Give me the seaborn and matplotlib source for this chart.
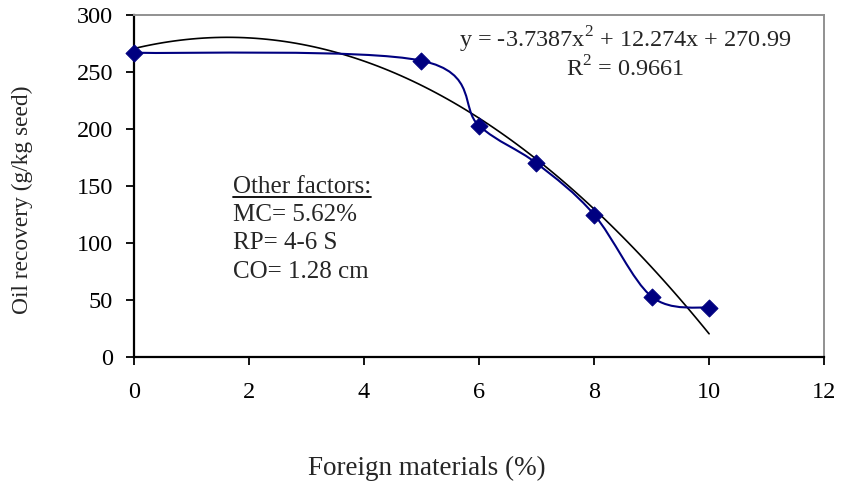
import numpy as np
import pandas as pd
import matplotlib
matplotlib.use('Agg')
import matplotlib.pyplot as plt
from matplotlib.path import Path
from matplotlib.patches import PathPatch
import seaborn as sns

# data
foreign = [0, 5, 6, 7, 8, 9, 10]
oil = [267, 260, 203, 170, 125, 53, 43]
eq_text = 'y = -3.7387x$^2$ + 12.274x + 270.99'
r2_text = 'R$^2$ = 0.9661'
factors = ['MC= 5.62%', 'RP= 4-6 S', 'CO= 1.28 cm']

df = pd.DataFrame({'Foreign': foreign, 'Oil': oil})

sns.set_style('ticks')
plt.rcParams['font.family'] = ['Liberation Serif', 'DejaVu Serif']
plt.rcParams['mathtext.fontset'] = 'custom'
plt.rcParams['mathtext.rm'] = 'Liberation Serif'

fig = plt.figure(figsize=(8.41, 4.87), dpi=100)
ax = fig.add_axes([0.159, 0.267, 0.821, 0.702])

navy = '#000080'

# polynomial trendline (order 2)
sns.regplot(x='Foreign', y='Oil', data=df, order=2, ci=None, scatter=False,
            color='black', line_kws={'linewidth': 1.2}, ax=ax)

# excel-like smoothed line through the points (bezier segments)
pts = np.column_stack([foreign, oil]).astype(float)
verts = [pts[0]]
codes = [Path.MOVETO]
n = len(pts)
for i in range(n - 1):
    p0 = pts[max(i - 1, 0)]
    p1 = pts[i]
    p2 = pts[i + 1]
    p3 = pts[min(i + 2, n - 1)]
    verts += [p1 + (p2 - p0) / 6, p2 - (p3 - p1) / 6, p2]
    codes += [Path.CURVE4] * 3
ax.add_patch(PathPatch(Path(verts, codes), fill=False, edgecolor=navy, linewidth=1.5, zorder=3))

sns.scatterplot(x='Foreign', y='Oil', data=df, marker='D', s=75, color=navy,
                edgecolor=navy, zorder=4, clip_on=False, ax=ax)

ax.set_xlim(0, 12)
ax.set_ylim(0, 300)
ax.set_xticks(range(0, 13, 2))
ax.set_yticks(range(0, 301, 50))
ax.set_xlabel('')
ax.set_ylabel('')
ax.tick_params(direction='out', length=6, width=1.3, labelsize=17.5, colors='black')
ax.tick_params(axis='y', pad=9)
ax.tick_params(axis='x', pad=12)

for s in ['left', 'bottom']:
    ax.spines[s].set_color('black')
    ax.spines[s].set_linewidth(1.6)
for s in ['top', 'right']:
    ax.spines[s].set_color('#909090')
    ax.spines[s].set_linewidth(1.4)

ax.text(8.54, 278, eq_text, ha='center', va='center', fontsize=17.5)
ax.text(8.54, 252.5, r2_text, ha='center', va='center', fontsize=17.5)

t = ax.text(1.72, 149, 'Other factors:', ha='left', va='center', fontsize=18)
for k, line in enumerate(factors):
    ax.text(1.72, 124.6 - 24.8 * k, line, ha='left', va='center', fontsize=18)

# underline for "Other factors:"
fig.canvas.draw()
bb = t.get_window_extent().transformed(fig.transFigure.inverted())
fig.add_artist(plt.Line2D([bb.x0, bb.x1], [bb.y0 + 0.003, bb.y0 + 0.003], color='black',
                          linewidth=1.3, transform=fig.transFigure))

fig.text(22 / 841, 1 - 200 / 487, 'Oil recovery (g/kg seed)', rotation=90,
         ha='center', va='center', fontsize=16.8)
fig.text(427 / 841, 1 - 468 / 487, 'Foreign materials (%)', ha='center', va='center', fontsize=19.5)

fig.savefig('out.png', dpi=100)
